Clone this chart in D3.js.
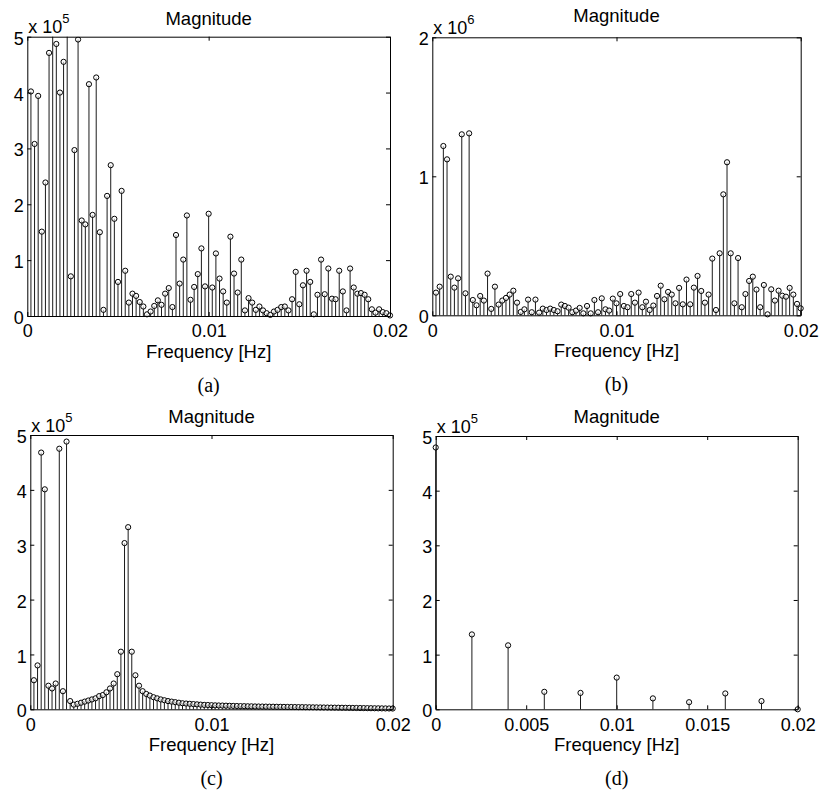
<!DOCTYPE html>
<html>
<head>
<meta charset="utf-8">
<script src="https://cdn.jsdelivr.net/npm/d3@7"></script>
<style>
  html, body { margin: 0; padding: 0; background: #fff; }
  svg { display: block; }
  .tick text, .lbl { font-family: "Liberation Sans", Arial, Helvetica, sans-serif; fill: #000; }
  .cap { font-family: "Liberation Serif", "Times New Roman", serif; fill: #000; }
</style>
</head>
<body>
<svg id="fig" width="822" height="793"></svg>
<script>
// Spectral magnitude of four signals, frequency bins in Hz.
const binStep = 0.0002;          // bin spacing of spectra (a)-(c)
const binStepD = 0.002;          // bin spacing of spectrum (d)

// (a) magnitude, units of 1e5
const magA = [4.02,3.08,3.94,1.51,2.39,4.71,5.6,4.87,4.00,4.55,
              5.8,0.71,2.97,4.95,1.71,1.64,4.15,1.81,4.27,1.50,
              0.11,2.15,2.70,1.74,0.61,2.24,0.81,0.24,0.40,0.36,
              0.25,0.17,0.03,0.08,0.18,0.28,0.20,0.40,0.50,0.16,
              1.45,0.58,1.01,1.80,0.29,0.52,0.75,1.21,0.53,1.83,
              0.51,1.12,0.67,0.44,0.24,1.42,0.76,0.42,1.01,0.10,
              0.32,0.24,0.11,0.17,0.10,0.05,0.02,0.08,0.11,0.16,
              0.17,0.10,0.30,0.79,0.21,0.55,0.81,0.61,0.03,0.38,
              1.01,0.39,0.85,0.31,0.30,0.81,0.44,0.10,0.85,0.51,
              0.40,0.41,0.38,0.30,0.12,0.06,0.12,0.07,0.05,0.01];

// (b) magnitude, units of 1e6
const magB = [0.163,0.206,1.218,1.122,0.278,0.199,0.266,1.302,0.158,1.309,
              0.110,0.072,0.139,0.106,0.300,0.046,0.206,0.077,0.106,0.125,
              0.149,0.177,0.091,0.024,0.043,0.113,0.022,0.113,0.019,0.048,
              0.038,0.048,0.038,0.029,0.077,0.067,0.055,0.022,0.034,0.053,
              0.014,0.067,0.014,0.110,0.022,0.122,0.043,0.034,0.120,0.086,
              0.153,0.067,0.058,0.153,0.091,0.163,0.058,0.098,0.038,0.070,
              0.139,0.213,0.115,0.168,0.149,0.086,0.197,0.079,0.257,0.079,
              0.199,0.283,0.175,0.091,0.149,0.408,0.038,0.446,0.870,1.101,
              0.446,0.086,0.412,0.058,0.153,0.247,0.278,0.185,0.058,0.218,
              0.007,0.187,0.106,0.177,0.141,0.134,0.197,0.149,0.082,0.050];

// (c) magnitude, units of 1e5
const magC = [0.53,0.80,4.68,4.01,0.43,0.38,0.47,4.75,0.33,4.88,
              0.15,0.085,0.10,0.12,0.14,0.16,0.18,0.20,0.24,0.26,
              0.31,0.38,0.47,0.64,1.05,3.03,3.32,1.05,0.62,0.43,
              0.33,0.28,0.25,0.22,0.20,0.18,0.165,0.15,0.14,0.13,
              0.12,0.11,0.105,0.10,0.095,0.09,0.085,0.08,0.078,0.075,
              0.072,0.07,0.068,0.066,0.064,0.062,0.06,0.058,0.057,0.055,
              0.054,0.052,0.051,0.05,0.049,0.048,0.047,0.046,0.045,0.044,
              0.043,0.042,0.041,0.04,0.039,0.038,0.037,0.036,0.035,0.034,
              0.033,0.032,0.031,0.03,0.029,0.028,0.027,0.026,0.025,0.024,
              0.023,0.022,0.021,0.02,0.019,0.018,0.017,0.016,0.015,0.014];

// (d) magnitude, units of 1e5
const magD = [4.79,1.37,1.17,0.32,0.30,0.58,0.20,0.13,0.29,0.15,0.0];

// axis ticks
const yTicks5 = [0,1,2,3,4,5];
const yTicks2 = [0,1,2];
const xTicksCoarse = [0,0.01,0.02];
const xTicksFine = [0,0.005,0.01,0.015,0.02];
const titleText = "Magnitude";
const xLabelText = "Frequency [Hz]";
const captions = ["(a)","(b)","(c)","(d)"];
const exponents = [5,6,5,5];

const freqAC = magA.map((_, i) => (i + 1) * binStep);
const freqD = magD.map((_, i) => i * binStepD);

const panels = [
  {mag: magA, freq: freqAC, yMax: 5, yTicks: yTicks5, xTicks: xTicksCoarse,
   box: {l: 27.3, r: 390, t: 36.7, b: 316}, titleY: 24.5},
  {mag: magB, freq: freqAC, yMax: 2, yTicks: yTicks2, xTicks: xTicksCoarse,
   box: {l: 432.3, r: 800.7, t: 37.3, b: 315.3}, titleY: 21.5},
  {mag: magC, freq: freqAC, yMax: 5, yTicks: yTicks5, xTicks: xTicksCoarse,
   box: {l: 30.3, r: 392.7, t: 435, b: 709.3}, titleY: 423},
  {mag: magD, freq: freqD, yMax: 5, yTicks: yTicks5, xTicks: xTicksFine,
   box: {l: 435.7, r: 797.7, t: 436, b: 709.3}, titleY: 423}
];

const svg = d3.select("#fig");
const fontPx = 18;
const fmt = d3.format("~g");

panels.forEach((p, idx) => {
  const {l, r, t, b} = p.box;
  const x = d3.scaleLinear().domain([0, 0.02]).range([l, r]);
  const y = d3.scaleLinear().domain([0, p.yMax]).range([b, t]);
  const g = svg.append("g");

  const clipId = "clip" + idx;
  svg.append("clipPath").attr("id", clipId)
    .append("rect").attr("x", l - 6).attr("y", t).attr("width", r - l + 12).attr("height", b - t + 6);

  // stems
  const marks = g.append("g").attr("clip-path", `url(#${clipId})`);
  const pts = p.mag.map((v, i) => ({f: p.freq[i], v}));
  marks.selectAll("line.stem").data(pts).join("line")
    .attr("class", "stem")
    .attr("x1", d => x(d.f)).attr("x2", d => x(d.f))
    .attr("y1", y(0)).attr("y2", d => y(d.v))
    .attr("stroke", "#000").attr("stroke-width", 0.9);
  marks.selectAll("circle").data(pts).join("circle")
    .attr("cx", d => x(d.f)).attr("cy", d => y(d.v)).attr("r", 2.6)
    .attr("fill", "#fff").attr("fill-opacity", 0.6)
    .attr("stroke", "#000").attr("stroke-width", 1);

  // axes with inward ticks on all four sides
  const bottom = g.append("g").attr("transform", `translate(0,${b})`)
    .call(d3.axisBottom(x).tickValues(p.xTicks).tickFormat(fmt)
      .tickSizeInner(-4).tickSizeOuter(0).tickPadding(8.5));
  const top = g.append("g").attr("transform", `translate(0,${t})`)
    .call(d3.axisTop(x).tickValues(p.xTicks).tickFormat("")
      .tickSizeInner(-4).tickSizeOuter(0));
  const left = g.append("g").attr("transform", `translate(${l},0)`)
    .call(d3.axisLeft(y).tickValues(p.yTicks).tickFormat(d3.format("d"))
      .tickSizeInner(-4).tickSizeOuter(0).tickPadding(3.5));
  const right = g.append("g").attr("transform", `translate(${r},0)`)
    .call(d3.axisRight(y).tickValues(p.yTicks).tickFormat("")
      .tickSizeInner(-4).tickSizeOuter(0));
  [bottom, top, left, right].forEach(a => {
    a.attr("font-size", null).attr("font-family", null);
    a.select(".domain").attr("stroke", "#000").attr("stroke-width", 1);
    a.selectAll(".tick line").attr("stroke", "#000").attr("stroke-width", 1);
    a.selectAll(".tick text").style("font-size", fontPx + "px");
  });
  left.selectAll(".tick text").attr("dy", "0.42em");

  // exponent label
  const ex = g.append("text").attr("class", "lbl")
    .attr("x", l + 1).attr("y", t - 3.5)
    .style("font-size", fontPx + "px");
  ex.append("tspan").text("x 10");
  ex.append("tspan").attr("dy", -10).style("font-size", "13px").text(exponents[idx]);

  // title, x label, caption
  const cx = (l + r) / 2;
  g.append("text").attr("class", "lbl").attr("x", cx).attr("y", p.titleY)
    .attr("text-anchor", "middle").style("font-size", "18.5px").text(titleText);
  g.append("text").attr("class", "lbl").attr("x", cx).attr("y", b + 42)
    .attr("text-anchor", "middle").style("font-size", "18.5px").text(xLabelText);
  g.append("text").attr("class", "cap").attr("x", cx).attr("y", b + 75.5)
    .attr("text-anchor", "middle").style("font-size", "20px").text(captions[idx]);
});
</script>
</body>
</html>
